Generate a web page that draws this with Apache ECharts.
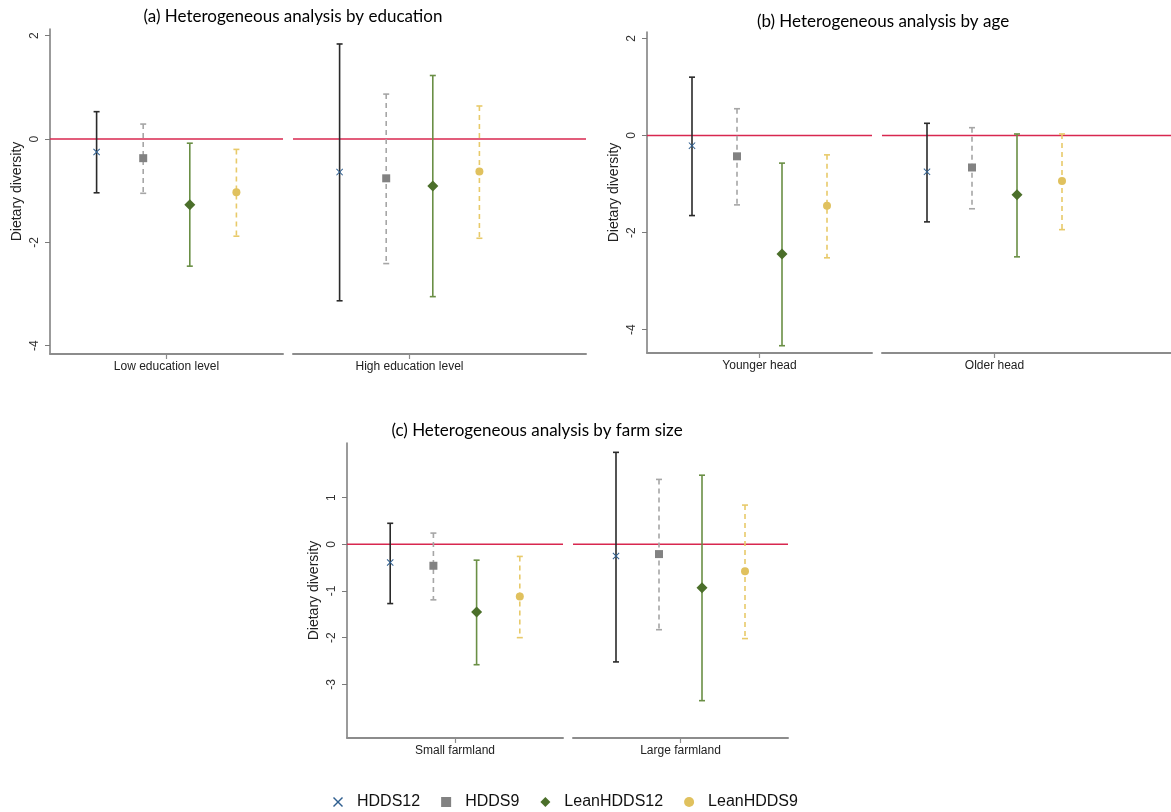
<!DOCTYPE html>
<html>
<head>
  <meta charset="utf-8">
  <script src="https://cdn.jsdelivr.net/npm/echarts@6/dist/echarts.min.js"></script>
  <style>
    html, body { margin: 0; padding: 0; background: #fff; }
    #main { width: 1171px; height: 812px; }
  </style>
</head>
<body>
  <div id="main"></div>
  <script>
    // models (legend order)
    var models = ['HDDS12', 'HDDS9', 'LeanHDDS12', 'LeanHDDS9'];
    var xPos = [1, 2, 3, 4];

    // (a) education
    var lowEduEst = [-0.25, -0.37, -1.27, -1.03];
    var lowEduLo  = [-1.04, -1.05, -2.46, -1.88];
    var lowEduHi  = [0.53, 0.29, -0.08, -0.20];
    var highEduEst = [-0.64, -0.76, -0.91, -0.63];
    var highEduLo  = [-3.13, -2.41, -3.05, -1.92];
    var highEduHi  = [1.84, 0.87, 1.23, 0.64];

    // (b) age
    var youngEst = [-0.21, -0.43, -2.44, -1.45];
    var youngLo  = [-1.65, -1.43, -4.33, -2.52];
    var youngHi  = [1.20, 0.55, -0.57, -0.40];
    var oldEst = [-0.75, -0.66, -1.22, -0.94];
    var oldLo  = [-1.78, -1.51, -2.50, -1.94];
    var oldHi  = [0.25, 0.16, 0.03, 0.03];

    // (c) farm size
    var smallEst = [-0.39, -0.46, -1.45, -1.12];
    var smallLo  = [-1.27, -1.19, -2.58, -2.00];
    var smallHi  = [0.45, 0.24, -0.34, -0.26];
    var largeEst = [-0.25, -0.21, -0.93, -0.58];
    var largeLo  = [-2.52, -1.83, -3.35, -2.02];
    var largeHi  = [1.97, 1.39, 1.48, 0.84];

    var ticksAB = [-4, -2, 0, 2];
    var ticksC = [-3, -2, -1, 0, 1];

    var markerColors = ['#2f5f8f', '#828282', '#4b6f2a', '#e0c15e'];
    var ciColors = ['#2a2a2a', '#a6a6a6', '#6a8f45', '#e8ca6a'];
    var ciDashed = [false, true, false, true];
    var symbols = [
      'path://M1,0L5,4L9,0L10,1L6,5L10,9L9,10L5,6L1,10L0,9L4,5L0,1Z',
      'path://M0,0L10,0L10,10L0,10Z',
      'path://M5,0L10,5L5,10L0,5Z',
      'circle'
    ];
    var symbolSizes = [7, 8, 11, 8];

    var chart = echarts.init(document.getElementById('main'));

    var grids = [], xAxes = [], yAxes = [], series = [];

    function renderBar(params, api) {
      var x = api.value(0), lo = api.value(1), hi = api.value(2), m = api.value(3);
      var top = api.coord([x, hi]);
      var bot = api.coord([x, lo]);
      var st = { stroke: ciColors[m], lineWidth: 1.6 };
      var stBar = { stroke: ciColors[m], lineWidth: 1.6, lineDash: ciDashed[m] ? [5, 4] : null };
      return {
        type: 'group',
        children: [
          { type: 'line', shape: { x1: top[0], y1: top[1], x2: bot[0], y2: bot[1] }, style: stBar },
          { type: 'line', shape: { x1: top[0] - 3, y1: top[1], x2: top[0] + 3, y2: top[1] }, style: st },
          { type: 'line', shape: { x1: bot[0] - 3, y1: bot[1], x2: bot[0] + 3, y2: bot[1] }, style: st }
        ]
      };
    }

    function addSub(rect, yMin, yMax, yTicks, showY, xMax, label, est, lo, hi) {
      var i = grids.length;
      grids.push({ left: rect[0], top: rect[1], width: rect[2], height: rect[3] });
      xAxes.push({
        type: 'value', gridIndex: i, min: 0, max: xMax,
        splitLine: { show: false },
        axisLine: { show: true, onZero: false, lineStyle: { color: '#8c8c8c', width: 2 } },
        axisTick: { show: true, customValues: [2.5], length: 5, lineStyle: { color: '#8c8c8c', width: 1.2 } },
        axisLabel: {
          customValues: [2.5], margin: 7,
          formatter: function () { return label; },
          fontFamily: 'Liberation Sans', fontSize: 12, color: '#222'
        }
      });
      yAxes.push({
        type: 'value', gridIndex: i, min: yMin, max: yMax, show: showY,
        name: 'Dietary diversity', nameLocation: 'middle', nameGap: 26,
        nameTextStyle: { fontFamily: 'Liberation Sans', fontSize: 14, color: '#222' },
        splitLine: { show: false },
        axisLine: { show: true, onZero: false, lineStyle: { color: '#7a7a7a', width: 1.5 } },
        axisTick: { show: true, customValues: yTicks, length: 5, lineStyle: { color: '#7a7a7a' } },
        axisLabel: {
          customValues: yTicks, rotate: 90, margin: 9,
          fontFamily: 'Liberation Sans', fontSize: 12, color: '#333'
        }
      });
      // zero reference line
      series.push({
        type: 'line', xAxisIndex: i, yAxisIndex: i, silent: true,
        data: [[0, 0], [xMax, 0]], symbol: 'none',
        lineStyle: { color: '#d8274f', width: 1.5 }, z: 1
      });
      var bars = [];
      for (var m = 0; m < models.length; m++) {
        bars.push([xPos[m], lo[m], hi[m], m]);
      }
      series.push({
        type: 'custom', name: 'ci', xAxisIndex: i, yAxisIndex: i,
        renderItem: renderBar, data: bars, z: 2, silent: true
      });
      for (var k = 0; k < models.length; k++) {
        series.push({
          type: 'scatter', name: models[k], xAxisIndex: i, yAxisIndex: i,
          data: [[xPos[k], est[k]]],
          symbol: symbols[k], symbolSize: symbolSizes[k], symbolKeepAspect: true,
          itemStyle: { color: markerColors[k], opacity: 1 }, z: 3
        });
      }
    }

    // (a)
    addSub([50, 29, 233, 325], -4.16, 2.13, ticksAB, true, 5, 'Low education level', lowEduEst, lowEduLo, lowEduHi);
    addSub([293, 29, 293, 325], -4.16, 2.13, ticksAB, false, 5 * 293 / 233, 'High education level', highEduEst, highEduLo, highEduHi);
    // (b)
    addSub([647, 32, 225, 321], -4.48, 2.13, ticksAB, true, 5, 'Younger head', youngEst, youngLo, youngHi);
    addSub([882, 32, 289, 321], -4.48, 2.13, ticksAB, false, 5 * 289 / 225, 'Older head', oldEst, oldLo, oldHi);
    // (c)
    addSub([347, 443, 216, 295], -4.15, 2.17, ticksC, true, 5, 'Small farmland', smallEst, smallLo, smallHi);
    addSub([573, 443, 215, 295], -4.15, 2.17, ticksC, false, 5, 'Large farmland', largeEst, largeLo, largeHi);

    var titleFont = '17px Lato';
    chart.setOption({
      animation: false,
      backgroundColor: '#fff',
      grid: grids,
      xAxis: xAxes,
      yAxis: yAxes,
      series: series,
      legend: {
        data: models, left: 328, top: 789, selectedMode: false,
        itemWidth: 28, itemHeight: 10, itemGap: 21,
        textStyle: { fontFamily: 'Liberation Sans', fontSize: 16, color: '#111' }
      },
      graphic: [
        { type: 'text', x: 293, y: 17, style: { text: '(a) Heterogeneous analysis by education', font: titleFont, fill: '#000', textAlign: 'center', textVerticalAlign: 'middle' } },
        { type: 'text', x: 883, y: 22, style: { text: '(b) Heterogeneous analysis by age', font: titleFont, fill: '#000', textAlign: 'center', textVerticalAlign: 'middle' } },
        { type: 'text', x: 537, y: 431, style: { text: '(c) Heterogeneous analysis by farm size', font: titleFont, fill: '#000', textAlign: 'center', textVerticalAlign: 'middle' } }
      ]
    });
  </script>
</body>
</html>
